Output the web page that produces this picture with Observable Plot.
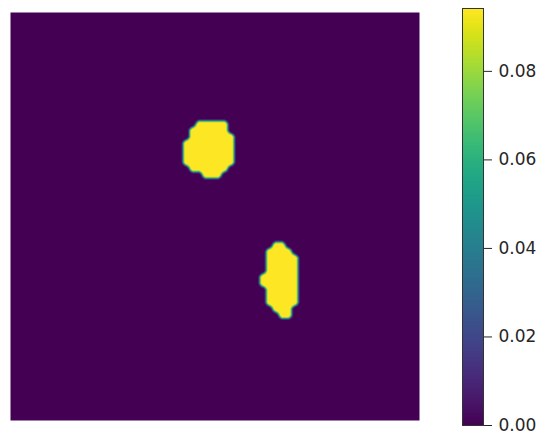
<!DOCTYPE html>
<html><head><meta charset="utf-8">
<script src="https://cdn.jsdelivr.net/npm/d3@7"></script>
<script src="https://cdn.jsdelivr.net/npm/@observablehq/plot@0.6"></script>
<style>
body{margin:0;background:#fff}
#c{position:relative;width:542px;height:434px}
#c svg{position:absolute;left:0;top:0}
</style>
</head><body><div id="c"></div>
<script>
const gridSize = 64;
const peakValue = 0.0942;
const colorTicks = [0, 0.02, 0.04, 0.06, 0.08];

// blob 1 (upper left): row, first column, last column of the bright run
const blob1Rows  = [17, 18, 19, 20, 21, 22, 23, 24, 25];
const blob1Start = [29, 28, 28, 27, 27, 27, 27, 28, 30];
const blob1End   = [33, 33, 34, 34, 34, 34, 34, 33, 32];

// blob 2 (lower right)
const blob2Rows  = [36, 37, 38, 39, 40, 41, 42, 43, 44, 45, 46, 47];
const blob2Start = [41, 40, 40, 40, 40, 39, 39, 40, 40, 40, 41, 42];
const blob2End   = [42, 43, 44, 44, 44, 44, 44, 44, 44, 44, 43, 43];

const values = new Array(gridSize * gridSize).fill(0);
function paint(rows, starts, ends) {
  rows.forEach((r, i) => {
    for (let c = starts[i]; c <= ends[i]; c++) values[r * gridSize + c] = peakValue;
  });
}
paint(blob1Rows, blob1Start, blob1End);
paint(blob2Rows, blob2Start, blob2End);

// display resampling in data space (like imshow's antialiasing), then colour-mapped
function cell(r, c) {
  r = Math.max(0, Math.min(gridSize - 1, r));
  c = Math.max(0, Math.min(gridSize - 1, c));
  return values[r * gridSize + c];
}
function sample(x, y) {
  const gx = x - 0.5, gy = y - 0.5;
  const c0 = Math.floor(gx), r0 = Math.floor(gy);
  const fx = gx - c0, fy = gy - r0;
  const top = cell(r0, c0) * (1 - fx) + cell(r0, c0 + 1) * fx;
  const bot = cell(r0 + 1, c0) * (1 - fx) + cell(r0 + 1, c0 + 1) * fx;
  const b = top * (1 - fy) + bot * fy;
  const s = (b - peakValue / 2) * 2.2 + peakValue / 2;
  return Math.max(0, Math.min(peakValue, s));
}

const colorOpts = {type: "linear", scheme: "viridis", domain: [0, peakValue]};

const main = Plot.plot({
  width: 542, height: 434,
  marginLeft: 10, marginRight: 123, marginTop: 12, marginBottom: 14,
  x: {domain: [0, gridSize], axis: null},
  y: {domain: [0, gridSize], reverse: true, axis: null},
  color: colorOpts,
  marks: [
    Plot.raster({fill: sample, x1: 0, y1: 0, x2: gridSize, y2: gridSize, pixelSize: 1})
  ]
});

const bar = Plot.plot({
  width: 542, height: 434,
  marginLeft: 462, marginRight: 59, marginTop: 8, marginBottom: 9,
  style: {fontFamily: "DejaVu Sans", fontSize: "17px", color: "#262626", background: "transparent"},
  x: {domain: [0, 1], axis: null},
  y: {domain: [0, peakValue], axis: "right", ticks: colorTicks, tickFormat: ".2f", tickSize: 8, tickPadding: 7, label: null},
  color: colorOpts,
  marks: [
    Plot.raster({fill: (x, y) => y, x1: 0, x2: 1, y1: 0, y2: peakValue, pixelSize: 1}),
    Plot.frame({stroke: "#333", strokeWidth: 1})
  ]
});

const c = document.getElementById("c");
c.appendChild(main);
c.appendChild(bar);
</script>
</body></html>
